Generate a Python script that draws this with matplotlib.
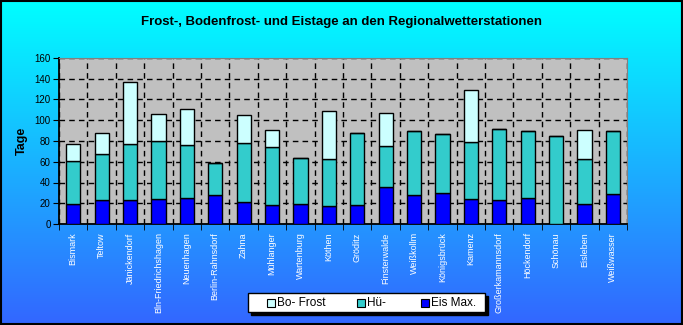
import matplotlib.pyplot as plt
import numpy as np
from matplotlib.patches import Rectangle

plt.rcParams['font.family'] = ['Liberation Sans', 'DejaVu Sans']

# =========================
# Daten
# =========================
stationen = [
    "Bismark", "Teltow", "Jänickendorf", "Bln-Friedrichshagen", "Neuenhagen",
    "Berlin-Rahnsdorf", "Zahna", "Mühlanger", "Wartenburg", "Köthen", "Gröditz",
    "Finsterwalde", "Weißkollm", "Königsbrück", "Kamenz", "Großerkamannsdorf",
    "Höckendorf", "Schönau", "Eisleben", "Weißwasser",
]

eis_max = [19, 23, 23, 24, 25, 28, 21, 18, 19, 17, 18, 36, 28, 30, 24, 23, 25, 0, 19, 29]
hue = [42, 44, 54, 56, 51, 31, 57, 56, 45, 46, 70, 39, 62, 57, 55, 69, 65, 85, 44, 61]
bo_frost = [16, 21, 60, 26, 35, 0, 27, 17, 0, 46, 0, 32, 0, 0, 50, 0, 0, 0, 28, 0]

serien = ["Bo- Frost", "Hü-", "Eis Max."]

TITEL = "Frost-, Bodenfrost- und Eistage an den Regionalwetterstationen"

C_EIS = "#0000FF"
C_HUE = "#33CCCC"
C_BO = "#CCFFFF"

W, H = 683, 325

# =========================
# Figur mit Farbverlauf
# =========================
fig = plt.figure(figsize=(W / 100, H / 100), dpi=100)

bg = fig.add_axes([0, 0, 1, 1], zorder=-10)
grad = np.linspace(0, 1, 256)[:, None]
top = np.array([0.0, 1.0, 1.0])
bottom = np.array([0.2, 0.4, 1.0])
img = top[None, None, :] * (1 - grad[:, :, None]) + bottom[None, None, :] * grad[:, :, None]
bg.imshow(img, aspect='auto', extent=[0, W, H, 0])
bg.set_xlim(0, W)
bg.set_ylim(H, 0)
bg.axis('off')
bg.add_patch(Rectangle((0.5, 0.5), W - 2, H - 1.5, fill=False, edgecolor='black', linewidth=1.5))

ax = fig.add_axes([59 / W, 1 - 224 / H, 568 / W, 166 / H])
ax.set_facecolor("#C0C0C0")

x = np.arange(len(stationen))
eis = np.array(eis_max)
hu = np.array(hue)
bo = np.array(bo_frost)
w = 0.5

ax.bar(x, eis, w, color=C_EIS, edgecolor='black', linewidth=1.0, zorder=3)
ax.bar(x, hu, w, bottom=eis, color=C_HUE, edgecolor='black', linewidth=1.0, zorder=3)
ax.bar(x, bo, w, bottom=eis + hu, color=C_BO, edgecolor='black', linewidth=1.0, zorder=3)

ax.set_xlim(-0.5, len(stationen) - 0.5)
ax.set_ylim(0, 160)
ax.set_yticks(np.arange(0, 161, 20))
ax.set_xticks(x)
ax.set_xticks(np.arange(-0.5, len(stationen), 1), minor=True)
ax.set_xticklabels(stationen, rotation=90, color='white', fontsize=6.5)
ax.tick_params(axis='x', which='major', length=0, pad=6)
ax.tick_params(axis='x', which='minor', length=4, direction='out', color='black')
ax.tick_params(axis='y', length=4, direction='out', labelsize=7, pad=2)

ax.grid(True, axis='y', which='major', color='black', linestyle=(0, (4, 3)), linewidth=1.0, zorder=1)
ax.grid(True, axis='x', which='minor', color='black', linestyle=(0, (4, 3)), linewidth=1.0, zorder=1)
ax.set_axisbelow(True)

ax.spines['left'].set_color('black')
ax.spines['bottom'].set_color('black')
ax.spines['left'].set_linewidth(1.3)
ax.spines['bottom'].set_linewidth(1.3)
ax.spines['top'].set_color('#808080')
ax.spines['right'].set_color('#808080')

ax.set_ylabel("Tage", fontsize=9, fontweight='bold', labelpad=5)

fig.text(0.5, 1 - 22.5 / H, TITEL, ha='center', va='center', fontsize=9.5, fontweight='bold')

# =========================
# Legende (von Hand, mit Schatten)
# =========================
bg.add_patch(Rectangle((251, 296), 237, 19, facecolor='black', edgecolor='black', zorder=2))
bg.add_patch(Rectangle((248, 293), 237, 19, facecolor='white', edgecolor='black', linewidth=1.0, zorder=3))
for xs, lab, col in zip([267, 357, 421], serien, [C_BO, C_HUE, C_EIS]):
    bg.add_patch(Rectangle((xs, 298.5), 8, 8, facecolor=col, edgecolor='black', linewidth=0.8, zorder=4))
    bg.text(xs + 10, 303, lab, ha='left', va='center', fontsize=8.5, zorder=5)

fig.savefig("out.png", dpi=100)
plt.close(fig)
